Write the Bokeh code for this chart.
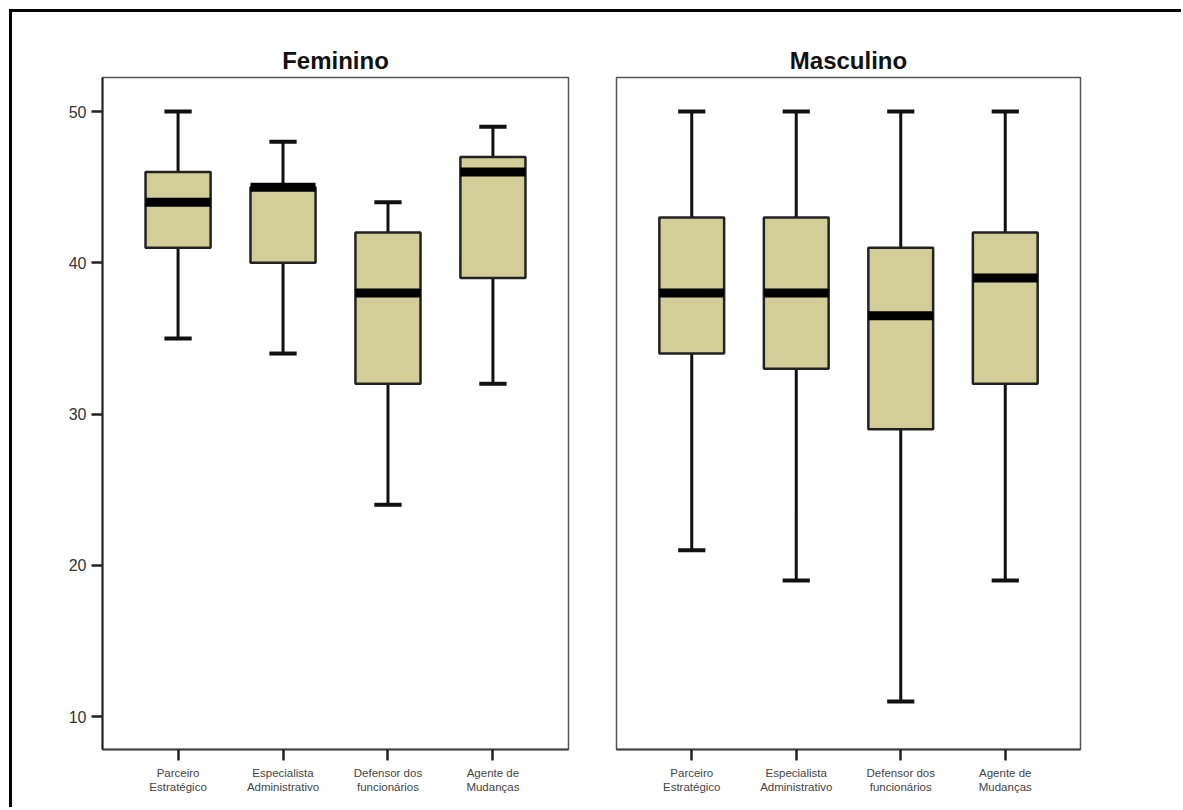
from bokeh.plotting import figure
from bokeh.layouts import row, column
from bokeh.models import FixedTicker, Title, Range1d, Div, Spacer
from bokeh.embed import file_html
from bokeh.resources import INLINE

categories = ["Parceiro\nEstratégico", "Especialista\nAdministrativo",
              "Defensor dos\nfuncionários", "Agente de\nMudanças"]
panels = ["Feminino", "Masculino"]

fem_lo = [35, 34, 24, 32]
fem_q1 = [41, 40, 32, 39]
fem_med = [44, 45, 38, 46]
fem_q3 = [46, 45, 42, 47]
fem_hi = [50, 48, 44, 49]

mas_lo = [21, 19, 11, 19]
mas_q1 = [34, 33, 29, 32]
mas_med = [38, 38, 36.5, 39]
mas_q3 = [43, 43, 41, 42]
mas_hi = [50, 50, 50, 50]

y_ticks = [10, 20, 30, 40, 50]

FILL = "#d3ce97"
DARK = "#111111"
FONT = "Liberation Sans"


def make_panel(title, lo, q1, med, q3, hi, width, bl, br, show_y):
    xs = list(range(1, len(categories) + 1))
    p = figure(width=width, height=790, output_backend="svg", toolbar_location=None,
               x_range=Range1d(0.28, 4.72), y_range=Range1d(7.82, 52.25),
               min_border_left=bl, min_border_right=br, min_border_top=65,
               min_border_bottom=53)
    p.title = Title(text=title, align="center", text_font=FONT, text_font_size="24px",
                    text_font_style="bold", text_color="#111111", standoff=7)
    p.grid.visible = False
    p.background_fill_color = "white"
    p.border_fill_color = "white"
    p.outline_line_color = "#555555"
    p.outline_line_width = 1.5

    w = 0.62
    cw = 0.26
    p.segment(x0=xs, y0=q3, x1=xs, y1=hi, line_color=DARK, line_width=3)
    p.segment(x0=xs, y0=lo, x1=xs, y1=q1, line_color=DARK, line_width=3)
    p.segment(x0=[x - cw / 2 for x in xs], y0=hi, x1=[x + cw / 2 for x in xs], y1=hi,
              line_color=DARK, line_width=4)
    p.segment(x0=[x - cw / 2 for x in xs], y0=lo, x1=[x + cw / 2 for x in xs], y1=lo,
              line_color=DARK, line_width=4)
    p.vbar(x=xs, width=w, bottom=q1, top=q3, fill_color=FILL, line_color="#222222",
           line_width=2.5)
    p.segment(x0=[x - w / 2 for x in xs], y0=med, x1=[x + w / 2 for x in xs], y1=med,
              line_color="black", line_width=9, line_cap="butt")

    p.xaxis.ticker = FixedTicker(ticks=xs)
    p.xaxis.major_label_overrides = {x: c for x, c in zip(xs, categories)}
    p.xaxis.major_label_text_font = FONT
    p.xaxis.major_label_text_font_size = "11.5px"
    p.xaxis.major_label_text_color = "#444444"
    p.xaxis.major_label_standoff = 6
    p.xaxis.axis_line_color = "#444444"
    p.xaxis.axis_line_width = 2
    p.xaxis.major_tick_in = 0
    p.xaxis.major_tick_out = 11
    p.xaxis.major_tick_line_width = 2.5
    p.xaxis.major_tick_line_color = "#222222"
    p.xaxis.minor_tick_line_color = None

    if show_y:
        p.yaxis.ticker = FixedTicker(ticks=y_ticks)
        p.yaxis.major_label_text_font = FONT
        p.yaxis.major_label_text_font_size = "16px"
        p.yaxis.major_label_text_color = "#333333"
        p.yaxis.major_label_standoff = 5
        p.yaxis.axis_line_color = "#222222"
        p.yaxis.axis_line_width = 2
        p.yaxis.major_tick_in = 0
        p.yaxis.major_tick_out = 11
        p.yaxis.major_tick_line_width = 2.5
        p.yaxis.major_tick_line_color = "#222222"
        p.yaxis.minor_tick_line_color = None
    else:
        p.yaxis.visible = False
    return p


p1 = make_panel(panels[0], fem_lo, fem_q1, fem_med, fem_q3, fem_hi, 580, 90, 24, True)
p2 = make_panel(panels[1], mas_lo, mas_q1, mas_med, mas_q3, mas_hi, 575, 24, 87, False)

top_bar = Div(text="", width=1172, height=3, margin=0,
              styles={"background-color": "black"})
left_bar = Div(text="", width=3, height=795, margin=0,
               styles={"background-color": "black"})
block = column(top_bar, row(left_bar, p1, p2))
layout = column(Spacer(height=9, width=10), row(Spacer(width=9, height=10), block))
open("out.html", "w").write(file_html(layout, INLINE))
